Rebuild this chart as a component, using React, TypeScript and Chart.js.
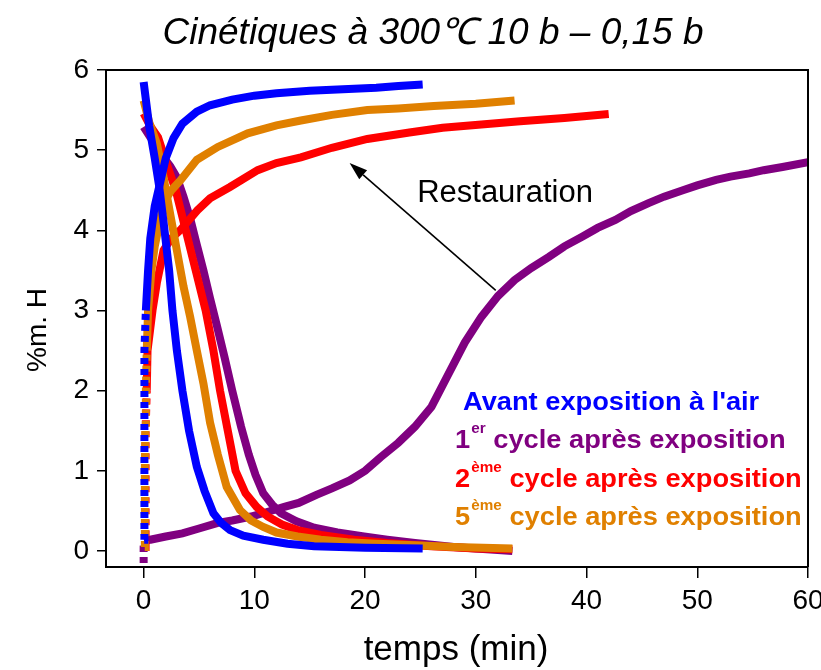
import React, { useEffect, useRef } from 'react';
import { Chart, registerables } from 'chart.js';

Chart.register(...registerables);

const X_TICKS = [0, 10, 20, 30, 40, 50, 60];
const Y_TICKS = [0, 1, 2, 3, 4, 5, 6];

// Avant exposition à l'air (blue)
const BLUE_ABS: [number, number][] = [
  [0.05, 0.14], [0.05, 0.5], [0.05, 1.0], [0.05, 1.5], [0.08, 2.0], [0.12, 2.5], [0.2, 3.0],
  [0.4, 3.5], [0.6, 3.9], [1.0, 4.3], [1.5, 4.6], [2.0, 4.9], [2.7, 5.15], [3.5, 5.33],
  [4.8, 5.48], [6, 5.56], [8, 5.63], [10, 5.68], [12, 5.71], [15, 5.74], [18, 5.76],
  [21, 5.78], [23, 5.8], [25.2, 5.82],
];
const BLUE_DES: [number, number][] = [
  [0, 5.85], [0.5, 5.3], [1.0, 4.9], [1.4, 4.55], [1.8, 4.1], [2.3, 3.5], [2.6, 3.0],
  [3.0, 2.5], [3.5, 2.0], [4.1, 1.5], [4.8, 1.05], [5.5, 0.75], [6.3, 0.47], [7.0, 0.35],
  [7.8, 0.26], [9, 0.19], [10.8, 0.14], [13, 0.09], [15.4, 0.06], [20, 0.04], [25.2, 0.03],
];

// 1er cycle après exposition (purple)
const PURPLE_ABS: [number, number][] = [
  [0, -0.15], [0, 0.05], [0.05, 0.12], [0.6, 0.14], [2, 0.18], [3.5, 0.22], [5, 0.28],
  [6.7, 0.35], [8, 0.38], [9.7, 0.43], [11, 0.48], [12.7, 0.55], [14, 0.6], [15.6, 0.7],
  [17, 0.78], [18.6, 0.88], [20, 1.0], [21.4, 1.17], [23, 1.35], [24.5, 1.55], [26, 1.8],
  [27.5, 2.2], [29, 2.6], [30.5, 2.92], [32, 3.18], [33.5, 3.38], [35, 3.53], [36.6, 3.67],
  [38, 3.8], [39.6, 3.92], [41, 4.03], [42.6, 4.13], [44, 4.24], [45.6, 4.34], [47, 4.42],
  [48.7, 4.5], [50, 4.56], [51.7, 4.63], [53, 4.67], [54.7, 4.71], [56, 4.75], [57.7, 4.79],
  [60, 4.85],
];
const PURPLE_DES: [number, number][] = [
  [0, 5.29], [0.6, 5.16], [1.2, 5.05], [1.8, 4.91], [2.4, 4.8], [3.0, 4.66], [3.6, 4.42],
  [4.2, 4.15], [4.8, 3.82], [5.4, 3.5], [6.0, 3.15], [6.6, 2.82], [7.3, 2.42], [8.0, 2.0],
  [8.8, 1.55], [9.5, 1.2], [10.1, 0.95], [10.8, 0.72], [11.6, 0.58], [12.4, 0.47],
  [13.8, 0.37], [15.4, 0.29], [17.5, 0.23], [19.9, 0.18], [22, 0.14], [24.5, 0.1],
  [28, 0.05], [33.3, 0.0],
];

// 2ème cycle après exposition (red)
const RED_ABS: [number, number][] = [
  [0.15, 0.05], [0.15, 0.5], [0.18, 1.0], [0.2, 1.5], [0.28, 2.0], [0.35, 2.5], [0.8, 3.0],
  [1.2, 3.35], [1.8, 3.75], [2.5, 3.9], [3.3, 4.0], [4.85, 4.25], [6, 4.4], [7.8, 4.54],
  [10.3, 4.75], [12, 4.84], [14.2, 4.91], [17, 5.03], [20.2, 5.14], [24, 5.22], [27, 5.28],
  [30.5, 5.32], [34, 5.36], [38, 5.4], [42, 5.45],
];
const RED_DES: [number, number][] = [
  [0, 5.46], [0.6, 5.3], [1.3, 5.16], [2.1, 4.82], [2.9, 4.5], [3.8, 4.0], [4.7, 3.5],
  [5.6, 3.0], [6.3, 2.5], [6.9, 2.0], [7.6, 1.5], [8.3, 1.0], [9.2, 0.72], [10.2, 0.55],
  [11.2, 0.43], [12.5, 0.33], [13.9, 0.26], [16, 0.2], [19, 0.14], [22, 0.1], [26, 0.06],
  [30, 0.03], [33.3, 0.02],
];

// 5ème cycle après exposition (orange)
const ORANGE_ABS: [number, number][] = [
  [0.1, 0.05], [0.1, 0.5], [0.12, 1.0], [0.15, 1.5], [0.2, 2.0], [0.28, 2.5], [0.4, 3.0],
  [0.7, 3.5], [1.0, 3.8], [1.8, 4.34], [2.5, 4.5], [3.3, 4.62], [4.8, 4.88], [6.7, 5.04],
  [9.4, 5.21], [12, 5.31], [14.2, 5.37], [17, 5.44], [20.2, 5.5], [23, 5.52], [26.2, 5.55],
  [30, 5.58], [33.5, 5.62],
];
const ORANGE_DES: [number, number][] = [
  [0, 5.62], [0.5, 5.35], [1.2, 5.08], [1.8, 4.66], [2.4, 4.2], [3.0, 3.75], [3.6, 3.3],
  [4.2, 2.92], [4.8, 2.5], [5.4, 2.09], [6.0, 1.6], [6.7, 1.2], [7.5, 0.8], [8.7, 0.51],
  [9.7, 0.38], [10.8, 0.3], [12, 0.23], [13.9, 0.18], [16, 0.14], [18.4, 0.11], [21, 0.09],
  [24.5, 0.07], [28, 0.05], [33.3, 0.03],
];

const TITLE = 'Cinétiques à 300℃ 10 b – 0,15 b';
const X_TITLE = 'temps (min)';
const Y_TITLE = '%m. H';
const ANNOTATION = 'Restauration';
const ARROW_FROM: [number, number] = [31.8, 3.25];
const ARROW_TO: [number, number] = [18.6, 4.84];
const ANNOTATION_AT: [number, number] = [24.7, 4.35];

const LEGEND = [
  { main: '', sup: '', rest: "Avant exposition à l'air", color: '#0000FF' },
  { main: '1', sup: 'er', rest: 'cycle après exposition', color: '#800080' },
  { main: '2', sup: 'ème', rest: 'cycle après exposition', color: '#FF0000' },
  { main: '5', sup: 'ème', rest: 'cycle après exposition', color: '#E08000' },
];

const FONT = '"Liberation Sans", Arial, sans-serif';

export default function App() {
  const ref = useRef<HTMLCanvasElement>(null);

  useEffect(() => {
    const canvas = ref.current;
    if (!canvas) return;

    const mk = (label: string, pts: [number, number][], color: string, order: number) => ({
      label,
      data: pts.map(([x, y]) => ({ x, y })),
      borderColor: color,
      backgroundColor: color,
      borderWidth: 8,
      pointRadius: 0,
      showLine: true,
      order,
      borderJoinStyle: 'miter' as const,
      borderCapStyle: 'butt' as const,
      segment: {
        borderDash: (c: any) =>
          c.p0.parsed.x < 0.3 && c.p1.parsed.x < 0.3 ? [6, 5] : undefined,
      },
    });

    const overlay = {
      id: 'overlay',
      afterDraw(chart: any) {
        const { ctx, chartArea, scales } = chart;
        const xs = scales.x;
        const ys = scales.y;
        ctx.save();
        // frame top/right
        ctx.strokeStyle = '#000';
        ctx.lineWidth = 2;
        ctx.beginPath();
        ctx.moveTo(chartArea.left, chartArea.top);
        ctx.lineTo(chartArea.right, chartArea.top);
        ctx.lineTo(chartArea.right, chartArea.bottom);
        ctx.stroke();

        ctx.fillStyle = '#000';
        // title
        ctx.font = `italic 37px ${FONT}`;
        ctx.textAlign = 'center';
        ctx.textBaseline = 'alphabetic';
        ctx.fillText(TITLE, 433, 44);
        // x title
        ctx.font = `35px ${FONT}`;
        ctx.fillText(X_TITLE, 456, 660);
        // y title
        ctx.save();
        ctx.translate(46, 330);
        ctx.rotate(-Math.PI / 2);
        ctx.font = `28px ${FONT}`;
        ctx.fillText(Y_TITLE, 0, 0);
        ctx.restore();

        // annotation
        ctx.font = `31px ${FONT}`;
        ctx.textAlign = 'left';
        ctx.fillText(ANNOTATION, xs.getPixelForValue(ANNOTATION_AT[0]), ys.getPixelForValue(ANNOTATION_AT[1]));
        const x0 = xs.getPixelForValue(ARROW_FROM[0]);
        const y0 = ys.getPixelForValue(ARROW_FROM[1]);
        const x1 = xs.getPixelForValue(ARROW_TO[0]);
        const y1 = ys.getPixelForValue(ARROW_TO[1]);
        const ang = Math.atan2(y1 - y0, x1 - x0);
        const hl = 18;
        const hw = 6;
        const bx = x1 - hl * Math.cos(ang);
        const by = y1 - hl * Math.sin(ang);
        ctx.lineWidth = 1.6;
        ctx.beginPath();
        ctx.moveTo(x0, y0);
        ctx.lineTo(bx, by);
        ctx.stroke();
        ctx.beginPath();
        ctx.moveTo(x1, y1);
        ctx.lineTo(bx + hw * Math.sin(ang), by - hw * Math.cos(ang));
        ctx.lineTo(bx - hw * Math.sin(ang), by + hw * Math.cos(ang));
        ctx.closePath();
        ctx.fill();

        // legend text (slightly widened, like the reference)
        const baselines = [410, 448, 487, 525];
        const sx = 1.09;
        LEGEND.forEach((item, i) => {
          ctx.save();
          ctx.fillStyle = item.color;
          ctx.textAlign = 'left';
          const x0l = i === 0 ? 463 : 455;
          ctx.translate(x0l, baselines[i]);
          ctx.scale(sx, 1);
          let x = 0;
          if (item.main) {
            ctx.font = `bold 25px ${FONT}`;
            ctx.fillText(item.main, x, 0);
            x += ctx.measureText(item.main).width + 1;
            ctx.font = `bold 14px ${FONT}`;
            ctx.fillText(item.sup, x, -15);
            x += ctx.measureText(item.sup).width + 7;
          }
          ctx.font = `bold 25px ${FONT}`;
          ctx.fillText(item.rest, x, 0);
          ctx.restore();
        });
        ctx.restore();
      },
    };

    const tickFont = { family: FONT, size: 28 };

    const chart = new Chart(canvas, {
      type: 'scatter',
      data: {
        datasets: [
          mk('Avant exposition (désorption)', BLUE_DES, '#0000FF', 1),
          mk('Avant exposition (absorption)', BLUE_ABS, '#0000FF', 1),
          mk('5ème cycle (désorption)', ORANGE_DES, '#E08000', 2),
          mk('5ème cycle (absorption)', ORANGE_ABS, '#E08000', 2),
          mk('2ème cycle (désorption)', RED_DES, '#FF0000', 3),
          mk('2ème cycle (absorption)', RED_ABS, '#FF0000', 3),
          mk('1er cycle (désorption)', PURPLE_DES, '#800080', 4),
          mk('1er cycle (absorption)', PURPLE_ABS, '#800080', 4),
        ] as any,
      },
      options: {
        animation: false,
        responsive: true,
        maintainAspectRatio: false,
        layout: { padding: { top: 70, right: 13, left: 0, bottom: 0 } },
        plugins: {
          legend: { display: false },
          tooltip: { enabled: false },
          title: { display: false },
        },
        scales: {
          x: {
            type: 'linear',
            min: -3.4,
            max: 60,
            afterBuildTicks: (s: any) => {
              s.ticks = X_TICKS.map((v) => ({ value: v }));
            },
            afterFit: (s: any) => {
              s.height = 103;
              s.paddingLeft = 0;
              s.paddingRight = 0;
            },
            grid: { drawOnChartArea: false, drawTicks: true, tickLength: 11, color: '#000', lineWidth: 1.5 },
            border: { display: true, color: '#000', width: 2 },
            ticks: { color: '#000', font: tickFont, padding: 6, maxRotation: 0, autoSkip: false },
          },
          y: {
            type: 'linear',
            min: -0.2,
            max: 6,
            afterBuildTicks: (s: any) => {
              s.ticks = Y_TICKS.map((v) => ({ value: v }));
            },
            afterFit: (s: any) => {
              s.width = 106;
              s.paddingTop = 0;
              s.paddingBottom = 0;
            },
            grid: { drawOnChartArea: false, drawTicks: true, tickLength: 9, color: '#000', lineWidth: 1.5 },
            border: { display: true, color: '#000', width: 2 },
            ticks: { color: '#000', font: tickFont, padding: 8, autoSkip: false },
          },
        },
      },
      plugins: [overlay],
    } as any);

    return () => chart.destroy();
  }, []);

  return (
    <div style={{ position: 'fixed', left: 0, top: 0, width: 821, height: 670, background: '#fff' }}>
      <canvas ref={ref} />
    </div>
  );
}
